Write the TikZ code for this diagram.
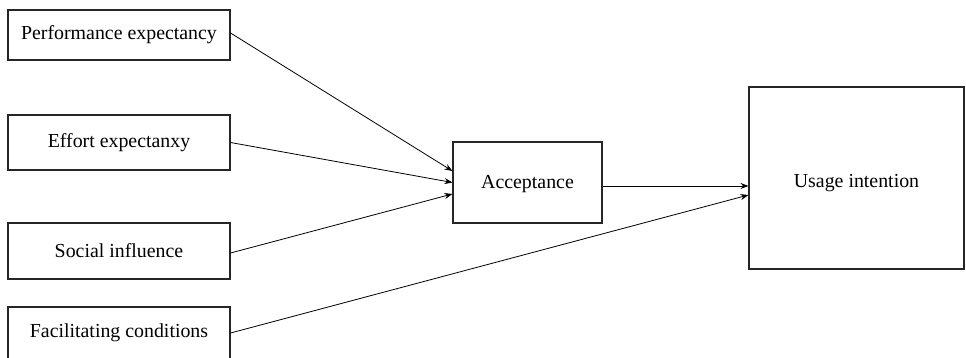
\documentclass[tikz,border=0pt]{standalone}
\usepackage{fontspec}
\setmainfont{Liberation Serif}
\usetikzlibrary{arrows.meta,calc}
\tikzset{
  box/.style={draw=black!85, line width=0.8pt, fill=white, inner sep=0pt, font=\fontsize{14.9}{17}\selectfont},
  arr/.style={-{Stealth[length=6pt,width=4.5pt]}, line width=0.6pt, black}
}
\begin{document}
\begin{tikzpicture}[x=0.75pt,y=-0.75pt]
\useasboundingbox (0,0) rectangle (966,357);
\clip (0,0) rectangle (966,357);
\node[box, minimum width=166.5pt, minimum height=37.5pt] (b1) at (119,35) {Performance expectancy};
\node[box, minimum width=166.5pt, minimum height=41.25pt] (b2) at (119,142.5) {Effort expectanxy};
\node[box, minimum width=166.5pt, minimum height=42pt] (b3) at (119,251) {Social influence};
\node[box, minimum width=166.5pt, minimum height=39pt] (b4) at (119,333) {Facilitating conditions};
\node[box, minimum width=111.75pt, minimum height=60.75pt] (acc) at (527.5,182.5) {\raisebox{-1.2pt}[\height][\depth]{Acceptance}};
\node[box, minimum width=161.25pt, minimum height=136.5pt] (use) at (856.5,178) {\raisebox{-3.8pt}[\height][\depth]{Usage intention}};
\draw[arr] ([yshift=1.5pt]b1.east) -- ([yshift=8.6pt]acc.west);
\draw[arr] (b2.east) -- (acc.west);
\draw[arr] ([yshift=-1.5pt]b3.east) -- ([yshift=-8.6pt]acc.west);
\coordinate (ao) at ([yshift=-2.6pt]acc.east);
\draw[arr] (ao) -- (ao -| use.west);
\draw[arr] (b4.east) -- ([yshift=-12.75pt]use.west);
\end{tikzpicture}
\end{document}
